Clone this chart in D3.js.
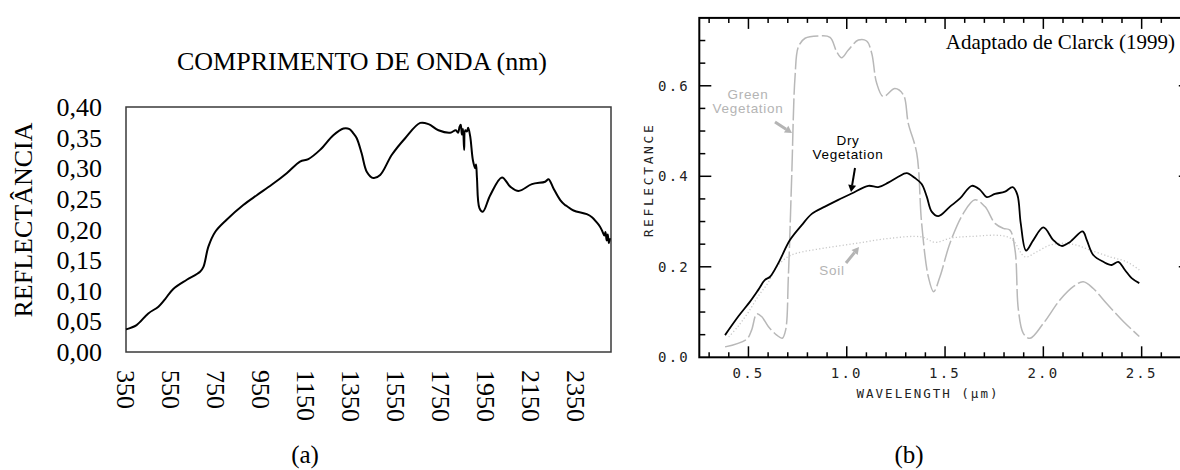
<!DOCTYPE html>
<html>
<head>
<meta charset="utf-8">
<script src="https://cdn.jsdelivr.net/npm/d3@7"></script>
<style>
  body { margin: 0; background: #fff; }
  svg { display: block; }
</style>
</head>
<body>
<svg id="chart" width="1180" height="470"></svg>
<script>
// ---- data (a): measured spectrum ----
var leftWavelength = [350, 397, 449, 494, 523, 560, 620, 679, 694, 716, 746, 797, 871, 931, 997,
  1064, 1123, 1160, 1212, 1271, 1316, 1343, 1360, 1375, 1397, 1420, 1449, 1479, 1531, 1590,
  1657, 1694, 1738, 1790, 1815, 1825, 1832, 1837, 1842, 1847, 1852, 1857, 1864, 1870, 1879,
  1891, 1901, 1905, 1909, 1920, 1935, 1968, 2020, 2057, 2094, 2153, 2212, 2227, 2249, 2279,
  2300, 2309, 2338, 2397, 2420, 2440, 2455, 2465, 2475, 2480, 2485, 2490, 2495, 2500];
var leftReflectance = [0.037, 0.044, 0.063, 0.074, 0.086, 0.103, 0.118, 0.131, 0.139, 0.172, 0.196, 0.216, 0.240, 0.256, 0.273,
  0.292, 0.311, 0.315, 0.330, 0.354, 0.365, 0.364, 0.357, 0.349, 0.324, 0.294, 0.284, 0.289, 0.322, 0.349,
  0.374, 0.372, 0.362, 0.358, 0.362, 0.358, 0.368, 0.371, 0.355, 0.364, 0.330, 0.362, 0.360, 0.366, 0.352,
  0.313, 0.300, 0.306, 0.284, 0.235, 0.229, 0.256, 0.285, 0.270, 0.263, 0.274, 0.278, 0.282, 0.267, 0.248,
  0.240, 0.238, 0.231, 0.225, 0.220, 0.212, 0.205, 0.198, 0.190, 0.196, 0.182, 0.192, 0.178, 0.186];
var leftXTicks = [350, 550, 750, 950, 1150, 1350, 1550, 1750, 1950, 2150, 2350];
var leftYTicks = [0, 0.05, 0.10, 0.15, 0.20, 0.25, 0.30, 0.35, 0.40];

// ---- data (b): Clark (1999) ----
var dryWl = [0.381, 0.448, 0.508, 0.550, 0.584, 0.610, 0.652, 0.711, 0.771, 0.822, 0.889, 0.957, 1.025, 1.110, 1.160,
  1.211, 1.262, 1.305, 1.347, 1.381, 1.407, 1.432, 1.466, 1.525, 1.576, 1.636, 1.678, 1.712, 1.754, 1.805,
  1.844, 1.868, 1.885, 1.912, 1.949, 2.000, 2.051, 2.093, 2.136, 2.200, 2.221, 2.254, 2.305, 2.348, 2.381,
  2.415, 2.449, 2.488];
var dryRefl = [0.049, 0.090, 0.123, 0.149, 0.171, 0.178, 0.208, 0.259, 0.292, 0.317, 0.333, 0.348, 0.362, 0.379, 0.376,
  0.386, 0.399, 0.407, 0.396, 0.383, 0.355, 0.322, 0.312, 0.333, 0.351, 0.379, 0.370, 0.354, 0.361, 0.366,
  0.376, 0.359, 0.296, 0.236, 0.259, 0.287, 0.259, 0.246, 0.255, 0.278, 0.259, 0.226, 0.211, 0.204, 0.211,
  0.193, 0.175, 0.164];
var greenWl = [0.381, 0.491, 0.516, 0.542, 0.567, 0.601, 0.644, 0.672, 0.689, 0.703, 0.720, 0.737, 0.754, 0.788, 0.855,
  0.915, 0.949, 0.974, 1.008, 1.059, 1.101, 1.127, 1.152, 1.186, 1.245, 1.288, 1.313, 1.356, 1.381, 1.415,
  1.442, 1.474, 1.525, 1.593, 1.652, 1.703, 1.754, 1.796, 1.830, 1.856, 1.873, 1.898, 1.932, 2.000, 2.085,
  2.152, 2.203, 2.254, 2.322, 2.407, 2.488];
var greenRefl = [0.023, 0.040, 0.060, 0.096, 0.090, 0.068, 0.049, 0.042, 0.060, 0.178, 0.399, 0.620, 0.686, 0.705, 0.710,
  0.707, 0.675, 0.662, 0.679, 0.701, 0.699, 0.672, 0.606, 0.576, 0.594, 0.580, 0.517, 0.451, 0.296, 0.178,
  0.145, 0.178, 0.252, 0.318, 0.348, 0.333, 0.296, 0.285, 0.281, 0.237, 0.105, 0.053, 0.042, 0.075, 0.127,
  0.156, 0.167, 0.152, 0.119, 0.079, 0.046];
var soilWl = [0.40, 0.45, 0.50, 0.55, 0.60, 0.644, 0.70, 0.745, 0.881, 1.051, 1.220, 1.380, 1.450, 1.525, 1.627,
  1.830, 1.907, 1.966, 2.034, 2.101, 2.169, 2.237, 2.339, 2.424, 2.488];
var soilRefl = [0.045, 0.070, 0.100, 0.135, 0.165, 0.200, 0.222, 0.230, 0.241, 0.252, 0.263, 0.266, 0.254, 0.263, 0.267,
  0.264, 0.222, 0.233, 0.248, 0.252, 0.248, 0.237, 0.222, 0.211, 0.193];
var rightXTicks = [0.5, 1.0, 1.5, 2.0, 2.5];
var rightYTicks = [0.0, 0.2, 0.4, 0.6];

var svg = d3.select("#chart");
svg.append("rect").attr("width", 1180).attr("height", 470).attr("fill", "#fff");

var serif = "'Liberation Serif', 'Times New Roman', serif";
var sans = "'Liberation Sans', Arial, sans-serif";
var mono = "'DejaVu Sans Mono', monospace";

// ================= (a) =================
var ax = d3.scaleLinear().domain([350, 2500]).range([126, 610]);
var ay = d3.scaleLinear().domain([0, 0.40]).range([352, 107]);
var ga = svg.append("g");

ga.append("rect")
  .attr("x", ax.range()[0]).attr("y", ay.range()[1])
  .attr("width", ax.range()[1] - ax.range()[0] + 1)
  .attr("height", ay.range()[0] - ay.range()[1])
  .attr("fill", "none").attr("stroke", "#3a3a3a").attr("stroke-width", 1.5);

ga.selectAll(".ytl").data(leftYTicks).enter().append("text")
  .attr("x", 102).attr("y", function (d) { return ay(d); })
  .attr("dy", "0.35em")
  .attr("text-anchor", "end")
  .attr("font-family", serif).attr("font-size", 26)
  .text(function (d) { return d3.format(".2f")(d).replace(".", ","); });

ga.selectAll(".xtl").data(leftXTicks).enter().append("text")
  .attr("transform", function (d) { return "translate(" + ax(d) + ",370) rotate(90)"; })
  .attr("dy", "0.35em")
  .attr("text-anchor", "start")
  .attr("font-family", serif).attr("font-size", 26)
  .text(function (d) { return d; });

ga.append("text")
  .attr("x", 362).attr("y", 70)
  .attr("text-anchor", "middle")
  .attr("font-family", serif).attr("font-size", 26)
  .text("COMPRIMENTO DE ONDA (nm)");

ga.append("text")
  .attr("transform", "translate(32,220) rotate(-90)")
  .attr("text-anchor", "middle")
  .attr("font-family", serif).attr("font-size", 26)
  .text("REFLECTÂNCIA");

var leftLine = d3.line()
  .x(function (d) { return ax(d[0]); })
  .y(function (d) { return ay(d[1]); })
  .curve(d3.curveCatmullRom.alpha(0.5));
ga.append("path")
  .datum(d3.zip(leftWavelength, leftReflectance))
  .attr("d", leftLine)
  .attr("fill", "none").attr("stroke", "#000").attr("stroke-width", 2);

ga.append("text")
  .attr("x", 305).attr("y", 463)
  .attr("text-anchor", "middle")
  .attr("font-family", serif).attr("font-size", 25)
  .text("(a)");

// ================= (b) =================
var bx = d3.scaleLinear().domain([0.25, 2.75]).range([699.3, 1190.8]);
var by = d3.scaleLinear().domain([0, 0.75]).range([357.3, 17.9]);
var gb = svg.append("g");

// minor / major tick values
var xMinor = d3.range(3, 28).map(function (i) { return i / 10; });
var yMinor = d3.range(1, 15).map(function (i) { return i / 20; });

function isMajorX(v) { return Math.abs(v * 2 - Math.round(v * 2)) < 1e-6; }
function isMajorY(v) { return Math.abs(v * 5 - Math.round(v * 5)) < 1e-6; }

var x0 = bx.range()[0], x1 = bx.range()[1], y0 = by.range()[0], y1 = by.range()[1];

// ticks (inward) on all four sides
xMinor.forEach(function (v) {
  var len = isMajorX(v) ? 11 : 5;
  gb.append("line").attr("x1", bx(v)).attr("x2", bx(v)).attr("y1", y0).attr("y2", y0 - len)
    .attr("stroke", "#000").attr("stroke-width", 1.5);
  gb.append("line").attr("x1", bx(v)).attr("x2", bx(v)).attr("y1", y1).attr("y2", y1 + len)
    .attr("stroke", "#000").attr("stroke-width", 1.5);
});
yMinor.forEach(function (v) {
  var len = isMajorY(v) ? 12 : 6;
  gb.append("line").attr("x1", x0).attr("x2", x0 + len).attr("y1", by(v)).attr("y2", by(v))
    .attr("stroke", "#000").attr("stroke-width", 1.5);
  gb.append("line").attr("x1", x1).attr("x2", x1 - len).attr("y1", by(v)).attr("y2", by(v))
    .attr("stroke", "#000").attr("stroke-width", 1.5);
});

gb.append("rect")
  .attr("x", x0).attr("y", y1).attr("width", x1 - x0).attr("height", y0 - y1)
  .attr("fill", "none").attr("stroke", "#000").attr("stroke-width", 2);

gb.selectAll(".ytl").data(rightYTicks).enter().append("text")
  .attr("x", 690).attr("y", function (d) { return by(d); })
  .attr("dy", "0.35em")
  .attr("text-anchor", "end")
  .attr("font-family", mono).attr("font-size", 14).attr("letter-spacing", 2.2)
  .attr("fill", "#222")
  .text(function (d) { return d3.format(".1f")(d); });

gb.selectAll(".xtl").data(rightXTicks).enter().append("text")
  .attr("x", function (d) { return bx(d); }).attr("y", 378)
  .attr("text-anchor", "middle")
  .attr("font-family", mono).attr("font-size", 14).attr("letter-spacing", 2.2)
  .attr("fill", "#222")
  .text(function (d) { return d3.format(".1f")(d); });

gb.append("text")
  .attr("x", 928).attr("y", 398)
  .attr("text-anchor", "middle")
  .attr("font-family", mono).attr("font-size", 12.5).attr("letter-spacing", 2)
  .attr("fill", "#222")
  .text("WAVELENGTH (µm)");

gb.append("text")
  .attr("transform", "translate(653,180) rotate(-90)")
  .attr("text-anchor", "middle")
  .attr("font-family", mono).attr("font-size", 13).attr("letter-spacing", 2.6)
  .attr("fill", "#222")
  .text("REFLECTANCE");

var rightLine = d3.line()
  .x(function (d) { return bx(d[0]); })
  .y(function (d) { return by(d[1]); })
  .curve(d3.curveCatmullRom.alpha(0.5));

gb.append("path")
  .datum(d3.zip(soilWl, soilRefl))
  .attr("d", rightLine)
  .attr("fill", "none").attr("stroke", "#c8c8c8").attr("stroke-width", 1.3)
  .attr("stroke-dasharray", "1.2,2.2");

gb.append("path")
  .datum(d3.zip(greenWl, greenRefl))
  .attr("d", rightLine)
  .attr("fill", "none").attr("stroke", "#b8b8b8").attr("stroke-width", 1.5)
  .attr("stroke-dasharray", "22,3.5");

gb.append("path")
  .datum(d3.zip(dryWl, dryRefl))
  .attr("d", rightLine)
  .attr("fill", "none").attr("stroke", "#000").attr("stroke-width", 1.8);

// labels and arrows
function arrow(g, xa, ya, xb, yb, color, w) {
  var ang = Math.atan2(yb - ya, xb - xa), hl = 7, hw = 4;
  var bxp = xb - hl * Math.cos(ang), byp = yb - hl * Math.sin(ang);
  g.append("line").attr("x1", xa).attr("y1", ya).attr("x2", bxp).attr("y2", byp)
    .attr("stroke", color).attr("stroke-width", w);
  g.append("polygon")
    .attr("points", [
      [xb, yb],
      [bxp + hw * Math.sin(ang), byp - hw * Math.cos(ang)],
      [bxp - hw * Math.sin(ang), byp + hw * Math.cos(ang)]
    ].map(function (p) { return p.join(","); }).join(" "))
    .attr("fill", color);
}

function label(g, x, y, lines, color) {
  g.append("text")
    .attr("x", x).attr("y", y)
    .attr("text-anchor", "middle")
    .attr("font-family", sans).attr("font-size", 13.5).attr("letter-spacing", 0.7)
    .attr("fill", color)
    .selectAll("tspan").data(lines).enter().append("tspan")
    .attr("x", x).attr("dy", function (d, i) { return i ? 14 : 0; })
    .text(function (d) { return d; });
}

label(gb, 748, 99, ["Green", "Vegetation"], "#b4b4b4");
arrow(gb, 775, 122, 792, 133, "#b4b4b4", 3);

label(gb, 848, 145, ["Dry", "Vegetation"], "#000");
arrow(gb, 855, 168, 851, 192, "#000", 2);

label(gb, 832, 275, ["Soil"], "#b4b4b4");
arrow(gb, 846, 263, 859, 247, "#b4b4b4", 3);

gb.append("text")
  .attr("x", 1175).attr("y", 49)
  .attr("text-anchor", "end")
  .attr("font-family", serif).attr("font-size", 21)
  .text("Adaptado de Clarck (1999)");

gb.append("text")
  .attr("x", 909).attr("y", 463)
  .attr("text-anchor", "middle")
  .attr("font-family", serif).attr("font-size", 25)
  .text("(b)");
</script>
</body>
</html>
